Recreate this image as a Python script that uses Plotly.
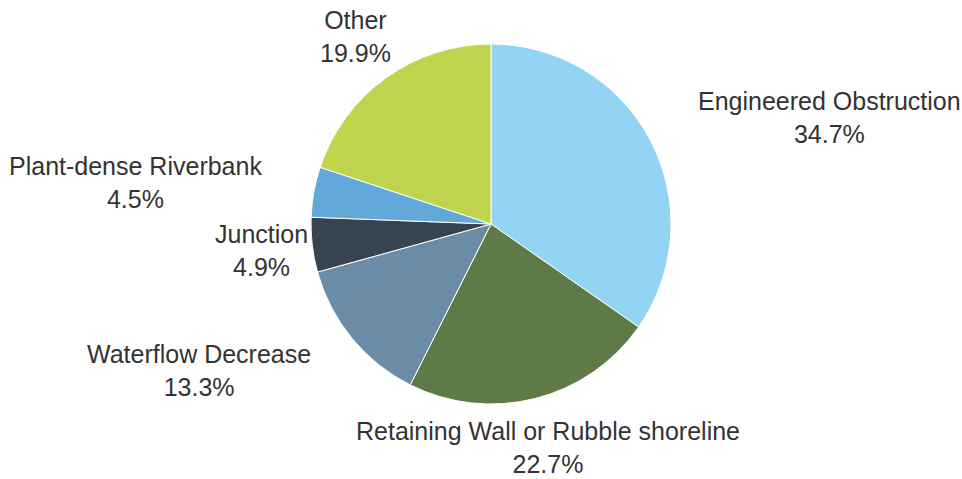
import math
import plotly.graph_objects as go

# Share of sites by shoreline feature
categories = [
    "Engineered Obstruction",
    "Retaining Wall or Rubble shoreline",
    "Waterflow Decrease",
    "Junction",
    "Plant-dense Riverbank",
    "Other",
]
shares = [34.7, 22.7, 13.3, 4.9, 4.5, 19.9]

colors = ["#93D3F4", "#5E7A46", "#6A8CA7", "#37444F", "#62A8D8", "#C1D44E"]
label_align = ["left", "center", "right", "center", "right", "center"]

W, H = 962, 479
cx, cy, r = 491, 224, 180      # pie centre and radius in pixels
label_dist = 231               # distance of label anchors from centre

fig = go.Figure(
    go.Pie(
        labels=categories,
        values=shares,
        sort=False,
        direction="clockwise",
        rotation=0,
        marker=dict(colors=colors, line=dict(color="white", width=1)),
        textinfo="none",
        hoverinfo="label+percent",
        showlegend=False,
        domain=dict(
            x=[(cx - r) / W, (cx + r) / W],
            y=[(H - cy - r) / H, (H - cy + r) / H],
        ),
    )
)

# Outside labels placed along each slice's mid-angle
total = sum(shares)
cum = 0.0
annotations = []
for name, val, align in zip(categories, shares, label_align):
    mid = (cum + val / 2) / total * 2 * math.pi
    cum += val
    px = cx + label_dist * math.sin(mid)
    py = cy - label_dist * math.cos(mid)
    annotations.append(
        dict(
            x=px / W,
            y=1 - py / H,
            xref="paper",
            yref="paper",
            xanchor=align,
            yanchor="middle",
            align="center",
            showarrow=False,
            text=f"{name}<br>{val / total * 100:.1f}%",
            font=dict(family="Liberation Sans", size=25, color="#333333"),
        )
    )

fig.update_layout(
    width=W,
    height=H,
    margin=dict(l=0, r=0, t=0, b=0),
    paper_bgcolor="white",
    plot_bgcolor="white",
    annotations=annotations,
)

fig.write_html("out.html")
